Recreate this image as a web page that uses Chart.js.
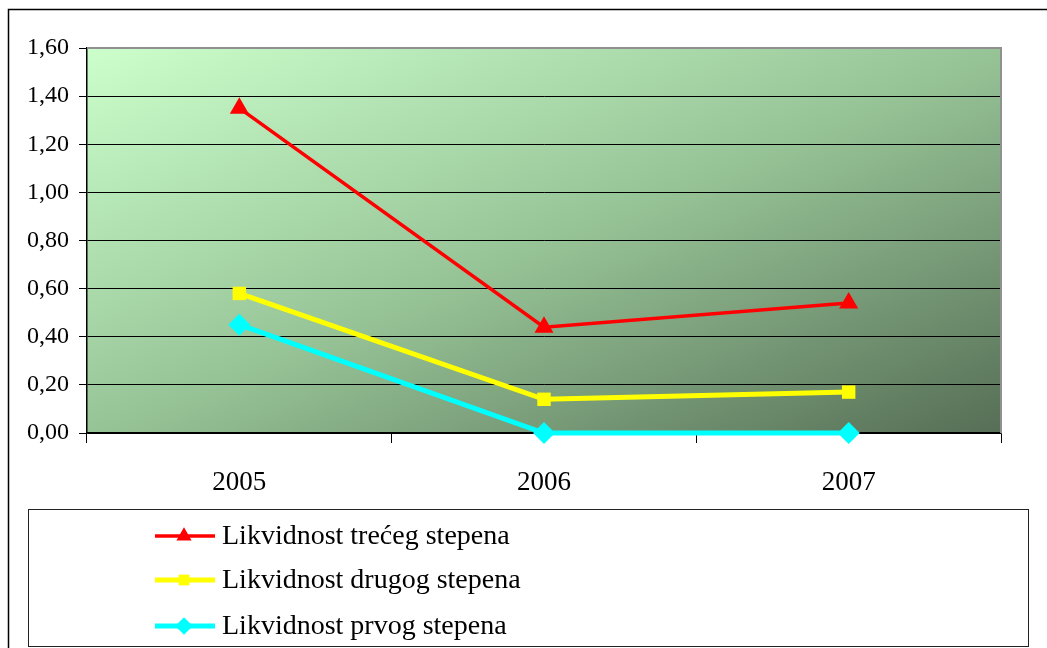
<!DOCTYPE html>
<html lang="sr">
<head>
    <meta charset="UTF-8">
    <title>Likvidnost</title>
    <script src="https://cdn.jsdelivr.net/npm/chart.js@4/dist/chart.umd.min.js"></script>
    <style>
        html, body { margin: 0; padding: 0; background: #fff; }
        #wrap { width: 1047px; height: 648px; }
    </style>
</head>
<body>
<div id="wrap"><canvas id="myChart" width="1047" height="648"></canvas></div>
<script>
    // data
    var years = ["2005", "2006", "2007"];
    var treci = [1.35, 0.44, 0.54];
    var drugi = [0.58, 0.14, 0.17];
    var prvi = [0.45, 0.00, 0.00];
    var yTicks = [0, 0.2, 0.4, 0.6, 0.8, 1.0, 1.2, 1.4, 1.6];

    var serif = "'Liberation Serif', 'Times New Roman', serif";

    // background gradient, frame and the boxed legend under the plot
    var decor = {
        id: 'decor',
        beforeDraw: function (chart) {
            var c = chart.ctx, a = chart.chartArea;
            var w = a.right - a.left, h = a.bottom - a.top;
            var cx = a.left + w / 2, cy = a.top + h / 2;
            var k = (w * h) / (w * w + h * h);
            c.save();
            c.fillStyle = '#fff';
            c.fillRect(0, 0, chart.width, chart.height);
            // isolines run from bottom-left to top-right corner
            var g = c.createLinearGradient(cx - k * h, cy - k * w, cx + k * h, cy + k * w);
            g.addColorStop(0, '#ccffcc');
            g.addColorStop(0.5, '#97c497');
            g.addColorStop(1, '#566e56');
            c.fillStyle = g;
            c.fillRect(a.left, a.top, w, h);
            c.restore();
        },
        afterDraw: function (chart) {
            var c = chart.ctx, a = chart.chartArea;
            c.save();
            // gray top/right edge of the plot
            c.strokeStyle = '#909090';
            c.lineWidth = 2;
            c.beginPath();
            c.moveTo(a.left, a.top);
            c.lineTo(a.right, a.top);
            c.lineTo(a.right, a.bottom);
            c.stroke();
            // outer frame
            c.strokeStyle = '#000';
            c.lineWidth = 1.5;
            c.strokeRect(8.5, 9.5, 1200, 800);
            // legend box
            c.lineWidth = 1;
            c.strokeStyle = '#222';
            c.strokeRect(28.5, 509.5, 1000, 137);
            var rows = [536, 580, 626];
            chart.data.datasets.forEach(function (ds, i) {
                var y = rows[i];
                c.strokeStyle = ds.borderColor;
                c.lineWidth = ds.borderWidth;
                c.beginPath();
                c.moveTo(155, y);
                c.lineTo(215, y);
                c.stroke();
                c.fillStyle = ds.backgroundColor;
                Chart.helpers.drawPoint(c, {
                    pointStyle: ds.pointStyle,
                    radius: ds.pointRadius * 0.8,
                    rotation: 0,
                    borderWidth: 0
                }, 184, y);
                c.fillStyle = '#000';
                c.font = '28px ' + serif;
                c.textBaseline = 'middle';
                c.textAlign = 'left';
                c.fillText(ds.label, 222, y + 1);
            });
            c.restore();
        }
    };

    var ctx = document.getElementById('myChart').getContext('2d');
    var chart = new Chart(ctx, {
        type: 'line',
        data: {
            labels: years,
            datasets: [{
                label: "Likvidnost trećeg stepena",
                data: treci,
                borderColor: '#ff0000',
                backgroundColor: '#ff0000',
                borderWidth: 3.5,
                pointStyle: 'triangle',
                pointRadius: 11,
                pointBorderWidth: 0,
                clip: false,
                fill: false
            }, {
                label: "Likvidnost drugog stepena",
                data: drugi,
                borderColor: '#ffff00',
                backgroundColor: '#ffff00',
                borderWidth: 5,
                pointStyle: 'rect',
                pointRadius: 9.5,
                pointBorderWidth: 0,
                clip: false,
                fill: false
            }, {
                label: "Likvidnost prvog stepena",
                data: prvi,
                borderColor: '#00ffff',
                backgroundColor: '#00ffff',
                borderWidth: 5,
                pointStyle: 'rectRot',
                pointRadius: 11,
                pointBorderWidth: 0,
                clip: false,
                fill: false
            }]
        },
        options: {
            responsive: false,
            animation: false,
            layout: { padding: { top: 48, right: 46, left: 0, bottom: 0 } },
            plugins: {
                legend: { display: false },
                tooltip: { enabled: false }
            },
            elements: { line: { tension: 0 } },
            scales: {
                x: {
                    offset: true,
                    grid: {
                        offset: true,
                        drawOnChartArea: false,
                        drawTicks: true,
                        tickLength: 10,
                        color: '#000'
                    },
                    border: { color: '#000', width: 1.5 },
                    ticks: {
                        color: '#000',
                        font: { family: serif, size: 27 },
                        padding: 24
                    },
                    afterFit: function (s) { s.height = 215; }
                },
                y: {
                    min: 0,
                    max: 1.6,
                    afterBuildTicks: function (s) {
                        s.ticks = yTicks.map(function (v) { return { value: v }; });
                    },
                    grid: {
                        color: '#000',
                        lineWidth: 1,
                        tickLength: 8
                    },
                    border: { color: '#000', width: 1.5 },
                    ticks: {
                        color: '#000',
                        font: { family: serif, size: 24 },
                        padding: 10,
                        callback: function (v) { return v.toFixed(2).replace('.', ','); }
                    },
                    afterFit: function (s) { s.width = 87; }
                }
            }
        },
        plugins: [decor]
    });
</script>
</body>
</html>
